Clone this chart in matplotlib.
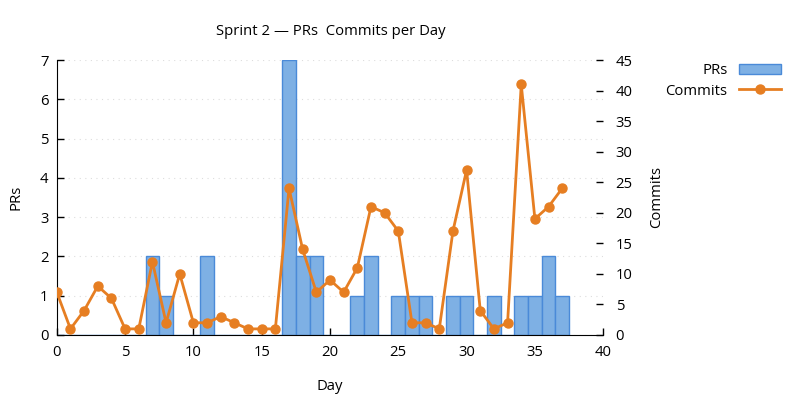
import matplotlib
matplotlib.use('Agg')
import matplotlib.pyplot as plt
from matplotlib.patches import Patch
from matplotlib.lines import Line2D

plt.rcParams['font.family'] = ['Open Sans', 'DejaVu Sans']
plt.rcParams['font.size'] = 10.7

# Data
days = list(range(38))
prs = [0, 0, 0, 0, 0, 0, 0, 2, 1, 0, 0, 2, 0, 0, 0, 0, 0, 7, 2, 2,
       0, 0, 1, 2, 0, 1, 1, 1, 0, 1, 1, 0, 1, 0, 1, 1, 2, 1]
commits = [7, 1, 4, 8, 6, 1, 1, 12, 2, 10, 2, 2, 3, 2, 1, 1, 1, 24, 14, 7,
           9, 7, 11, 21, 20, 17, 2, 2, 1, 17, 27, 4, 1, 2, 41, 19, 21, 24]

bar_color = '#7eb0e4'
bar_edge = '#4a8ad8'
line_color = '#e67e22'

fig = plt.figure(figsize=(8, 4), dpi=100)
ax = fig.add_axes([0.071, 0.1625, 0.683, 0.6875])
ax2 = ax.twinx()

ax.bar(days, prs, width=1.0, color=bar_color, edgecolor=bar_edge, linewidth=1)
ax2.plot(days, commits, color=line_color, linewidth=2, marker='o', markersize=6.5)

ax.set_xlim(0, 40)
ax.set_ylim(0, 7)
ax2.set_ylim(0, 45)
ax.set_xticks(range(0, 41, 5))
ax.set_yticks(range(0, 8))
ax2.set_yticks(range(0, 46, 5))

ax.grid(axis='y', color='#dddddd', linestyle=(0, (1, 4)), linewidth=0.8)
ax.set_axisbelow(True)

for a in (ax, ax2):
    a.spines['top'].set_visible(False)
    a.spines['right'].set_visible(False)
ax2.spines['left'].set_visible(False)
ax2.spines['bottom'].set_visible(False)
ax.tick_params(axis='x', direction='in', length=5, width=1, pad=7)
ax.tick_params(axis='y', direction='in', length=5, width=1, pad=6)
ax2.tick_params(direction='in', length=5, width=1, pad=9)

ax.set_xlabel('Day', labelpad=14)
ax.set_ylabel('PRs', labelpad=12)
ax2.set_ylabel('Commits', labelpad=12)
fig.text(0.413, 0.922, 'Sprint 2 \u2014 PRs  Commits per Day', ha='center', va='center')

handles = [Patch(facecolor=bar_color, edgecolor=bar_edge),
           Line2D([], [], color=line_color, linewidth=2, marker='o', markersize=6.5)]
fig.legend(handles, ['PRs', 'Commits'], loc='upper right', bbox_to_anchor=(0.993, 0.875),
           frameon=False, markerfirst=False, handlelength=2.8, labelspacing=0.35)

fig.savefig('out.png', dpi=100)
